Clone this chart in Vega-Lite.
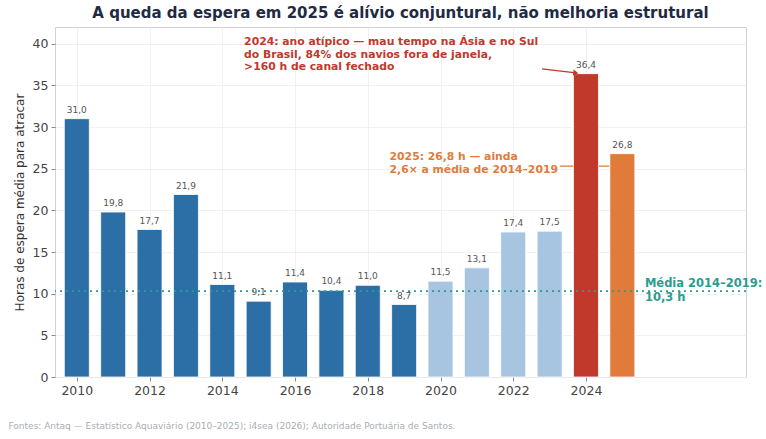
{
  "$schema": "https://vega.github.io/schema/vega-lite/v6.json",
  "autosize": {"type": "none"},
  "width": 691,
  "height": 350,
  "padding": {"left": 55, "top": 27, "right": 20, "bottom": 62},
  "background": "white",
  "title": {
    "text": "A queda da espera em 2025 é alívio conjuntural, não melhoria estrutural",
    "font": "DejaVu Sans",
    "fontSize": 15,
    "fontWeight": "bold",
    "color": "#1f2a44",
    "anchor": "middle",
    "offset": 6
  },
  "datasets": {
    "bars": [
      {"year": 2010, "value": 31.0, "label": "31,0", "group": "base"},
      {"year": 2011, "value": 19.8, "label": "19,8", "group": "base"},
      {"year": 2012, "value": 17.7, "label": "17,7", "group": "base"},
      {"year": 2013, "value": 21.9, "label": "21,9", "group": "base"},
      {"year": 2014, "value": 11.1, "label": "11,1", "group": "base"},
      {"year": 2015, "value": 9.1, "label": "9,1", "group": "base"},
      {"year": 2016, "value": 11.4, "label": "11,4", "group": "base"},
      {"year": 2017, "value": 10.4, "label": "10,4", "group": "base"},
      {"year": 2018, "value": 11.0, "label": "11,0", "group": "base"},
      {"year": 2019, "value": 8.7, "label": "8,7", "group": "base"},
      {"year": 2020, "value": 11.5, "label": "11,5", "group": "recent"},
      {"year": 2021, "value": 13.1, "label": "13,1", "group": "recent"},
      {"year": 2022, "value": 17.4, "label": "17,4", "group": "recent"},
      {"year": 2023, "value": 17.5, "label": "17,5", "group": "recent"},
      {"year": 2024, "value": 36.4, "label": "36,4", "group": "y2024"},
      {"year": 2025, "value": 26.8, "label": "26,8", "group": "y2025"}
    ],
    "mean": [{"value": 10.3, "year": 2025.62, "label": ["Média 2014–2019:", "10,3 h"]}],
    "notes": [
      {"year": 2014.6, "value": 40.2, "kind": "y2024", "label": ["2024: ano atípico — mau tempo na Ásia e no Sul", "do Brasil, 84% dos navios fora de janela,", ">160 h de canal fechado"]},
      {"year": 2018.6, "value": 26.4, "kind": "y2025", "label": ["2025: 26,8 h — ainda", "2,6× a média de 2014–2019"]}
    ],
    "arrow": [{"x1": 2022.79, "y1": 36.97, "x2": 2023.72, "y2": 36.5}],
    "connector": [{"x1": 2023.28, "y1": 25.3, "x2": 2024.65, "y2": 25.3}]
  },
  "layer": [
    {
      "data": {"name": "connector"},
      "mark": {"type": "rule", "color": "#e07b39", "strokeWidth": 1.2},
      "encoding": {
        "x": {"field": "x1", "type": "quantitative"},
        "x2": {"field": "x2"},
        "y": {"field": "y1", "type": "quantitative"}
      }
    },
    {
      "data": {"name": "bars"},
      "mark": {"type": "bar", "width": 25, "stroke": "white", "strokeWidth": 0.8},
      "encoding": {
        "x": {
          "field": "year",
          "type": "quantitative",
          "scale": {"domain": [2009.4, 2028.4], "nice": false, "zero": false, "padding": 0},
          "axis": {
            "values": [2010, 2012, 2014, 2016, 2018, 2020, 2022, 2024],
            "format": "d",
            "title": "Fontes: Antaq — Estatístico Aquaviário (2010–2025); i4sea (2026); Autoridade Portuária de Santos.",
            "titleX": -47,
            "titleY": 48,
            "titleAlign": "left",
            "titleAnchor": "start",
            "titleBaseline": "middle",
            "titleFontSize": 9,
            "titleFontWeight": "normal",
            "titleColor": "#a8adb5"
          }
        },
        "y": {
          "field": "value",
          "type": "quantitative",
          "scale": {"domain": [0, 42], "nice": false, "padding": 0},
          "axis": {
            "values": [0, 5, 10, 15, 20, 25, 30, 35, 40],
            "title": "Horas de espera média para atracar",
            "titleFontSize": 12,
            "titleFontWeight": "normal",
            "titleColor": "#333333",
            "titlePadding": 6
          }
        },
        "color": {
          "field": "group",
          "type": "nominal",
          "scale": {
            "domain": ["base", "recent", "y2024", "y2025"],
            "range": ["#2c6ea6", "#a7c4e0", "#c0392b", "#e07b39"]
          },
          "legend": null
        }
      }
    },
    {
      "data": {"name": "bars"},
      "mark": {"type": "text", "baseline": "bottom", "dy": -4, "fontSize": 9, "color": "#555555", "font": "DejaVu Sans"},
      "encoding": {
        "x": {"field": "year", "type": "quantitative"},
        "y": {"field": "value", "type": "quantitative"},
        "text": {"field": "label"}
      }
    },
    {
      "data": {"name": "mean"},
      "mark": {"type": "rule", "color": "#2a9d8f", "strokeWidth": 1.6, "strokeDash": [2, 4]},
      "encoding": {
        "y": {"field": "value", "type": "quantitative"}
      }
    },
    {
      "data": {"name": "mean"},
      "mark": {"type": "text", "align": "left", "baseline": "middle", "dy": -7, "lineHeight": 14, "fontSize": 11.5, "fontWeight": "bold", "color": "#2a9d8f", "font": "DejaVu Sans"},
      "encoding": {
        "x": {"field": "year", "type": "quantitative"},
        "y": {"field": "value", "type": "quantitative"},
        "text": {"field": "label"}
      }
    },
    {
      "data": {"name": "notes"},
      "mark": {"type": "text", "align": "left", "baseline": "middle", "lineHeight": 12.5, "fontSize": 10.8, "fontWeight": "bold", "font": "DejaVu Sans"},
      "encoding": {
        "x": {"field": "year", "type": "quantitative"},
        "y": {"field": "value", "type": "quantitative"},
        "text": {"field": "label"},
        "color": {"field": "kind", "type": "nominal", "scale": {"domain": ["y2024", "y2025"], "range": ["#c0392b", "#e07b39"]}, "legend": null}
      }
    },
    {
      "data": {"name": "arrow"},
      "mark": {"type": "rule", "color": "#c0392b", "strokeWidth": 1.3},
      "encoding": {
        "x": {"field": "x1", "type": "quantitative"},
        "x2": {"field": "x2"},
        "y": {"field": "y1", "type": "quantitative"},
        "y2": {"field": "y2"}
      }
    },
    {
      "data": {"name": "arrow"},
      "mark": {"type": "point", "shape": "triangle-right", "angle": 7, "size": 35, "filled": true, "opacity": 1, "color": "#c0392b"},
      "encoding": {
        "x": {"field": "x2", "type": "quantitative"},
        "y": {"field": "y2", "type": "quantitative"}
      }
    }
  ],
  "resolve": {"scale": {"color": "independent"}},
  "config": {
    "font": "DejaVu Sans",
    "view": {"stroke": "#cfd3d8", "strokeWidth": 1},
    "axis": {
      "domain": false,
      "grid": true,
      "gridColor": "#eeeeee",
      "gridWidth": 0.8,
      "tickColor": "#888888",
      "tickSize": 4,
      "labelFontSize": 12.5,
      "labelColor": "#444444",
      "labelPadding": 3
    }
  }
}
